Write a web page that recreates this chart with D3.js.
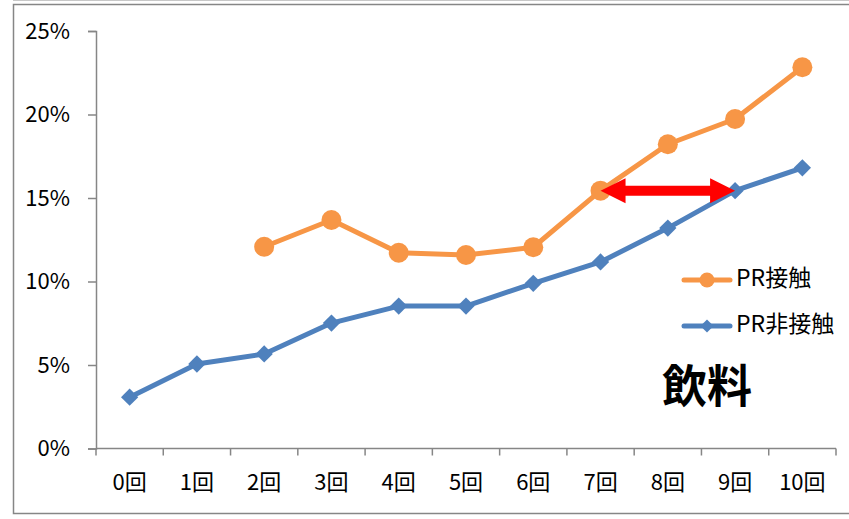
<!DOCTYPE html>
<html>
<head>
<meta charset="utf-8">
<script src="https://cdn.jsdelivr.net/npm/d3@7"></script>
<style>
  html, body { margin: 0; padding: 0; background: #fff; }
  svg { display: block; }
  text { font-family: "Noto Sans CJK JP", "Noto Sans", sans-serif; }
</style>
</head>
<body>
<svg id="chart" width="849" height="519"></svg>
<script>
// 露出回数ごとの購入率（飲料）
const categories = ["0回", "1回", "2回", "3回", "4回", "5回", "6回", "7回", "8回", "9回", "10回"];
const contactValues = [null, null, 12.08, 13.68, 11.72, 11.59, 12.05, 15.44, 18.22, 19.73, 22.83];
const nonContactValues = [3.07, 5.06, 5.66, 7.51, 8.53, 8.53, 9.89, 11.17, 13.2, 15.44, 16.81];
const yTicks = [0, 5, 10, 15, 20, 25];
const seriesNames = ["PR接触", "PR非接触"];
// 矢印：7回の接触と9回の非接触が同水準
const arrowFrom = "7回", arrowTo = "9回", arrowValue = 15.44;

const svg = d3.select("#chart");
const plotLeft = 96, plotRight = 836, plotTop = 31, plotBottom = 448.5;
const orange = "#F79646", blue = "#4F81BD", gridGray = "#868686";

// chart frame
svg.append("line").attr("x1", 13).attr("x2", 849).attr("y1", 0.5).attr("y2", 0.5)
  .attr("stroke", "#c8c8c8").attr("stroke-width", 1);
svg.append("rect").attr("x", 13.5).attr("y", 4.5).attr("width", 850).attr("height", 509)
  .attr("fill", "none").attr("stroke", gridGray).attr("stroke-width", 1.5);

const x = d3.scaleBand().domain(categories).range([plotLeft, plotRight]).padding(0);
const y = d3.scaleLinear().domain([0, 25]).range([plotBottom, plotTop]);
const cx = c => x(c) + x.bandwidth() / 2;

// y axis
const yAxis = svg.append("g").attr("transform", `translate(${plotLeft},0)`)
  .call(d3.axisLeft(y).tickValues(yTicks).tickFormat(d => d + "%").tickSize(8).tickPadding(18));
yAxis.select(".domain").attr("stroke", gridGray).attr("stroke-width", 1.5);
yAxis.selectAll(".tick line").attr("stroke", gridGray).attr("stroke-width", 1.5);
yAxis.selectAll(".tick text").attr("font-size", 22).attr("fill", "#000")
  .attr("font-family", "'Noto Sans CJK JP', sans-serif");

// x axis with ticks on band boundaries
const xAxisG = svg.append("g").attr("transform", `translate(0,${plotBottom})`);
xAxisG.append("line").attr("x1", plotLeft).attr("x2", plotRight).attr("y1", 0).attr("y2", 0)
  .attr("stroke", gridGray).attr("stroke-width", 1.5);
const boundaries = categories.map(c => x(c)).concat([plotRight]);
xAxisG.selectAll("line.tk").data(boundaries).join("line").attr("class", "tk")
  .attr("x1", d => d).attr("x2", d => d).attr("y1", 0).attr("y2", 7)
  .attr("stroke", gridGray).attr("stroke-width", 1.5);
xAxisG.selectAll("text").data(categories).join("text")
  .attr("x", d => cx(d)).attr("y", 36).attr("text-anchor", "middle")
  .attr("dominant-baseline", "middle").attr("font-size", 22).attr("fill", "#000").text(d => d);

const line = d3.line().defined(d => d.v != null).x(d => cx(d.c)).y(d => y(d.v));
const diamond = d3.symbol().type(d3.symbolDiamond2);

// non-contact series (blue, diamond markers)
const blueData = categories.map((c, i) => ({ c, v: nonContactValues[i] }));
svg.append("path").datum(blueData).attr("d", line).attr("fill", "none")
  .attr("stroke", blue).attr("stroke-width", 5).attr("stroke-linejoin", "round");
svg.selectAll("path.bm").data(blueData.filter(d => d.v != null)).join("path").attr("class", "bm")
  .attr("d", diamond.size(190)()).attr("transform", d => `translate(${cx(d.c)},${y(d.v)})`)
  .attr("fill", blue);

// contact series (orange, circle markers)
const orangeData = categories.map((c, i) => ({ c, v: contactValues[i] }));
svg.append("path").datum(orangeData).attr("d", line).attr("fill", "none")
  .attr("stroke", orange).attr("stroke-width", 5).attr("stroke-linejoin", "round");
svg.selectAll("circle.om").data(orangeData.filter(d => d.v != null)).join("circle").attr("class", "om")
  .attr("cx", d => cx(d.c)).attr("cy", d => y(d.v)).attr("r", 10).attr("fill", orange);

// red double-headed arrow
const ax1 = cx(arrowFrom), ax2 = cx(arrowTo), ay = y(arrowValue);
const headLen = 25, headHalf = 12.5, shaftHalf = 5;
svg.append("path").attr("fill", "#FF0000").attr("d",
  `M${ax1},${ay} L${ax1 + headLen},${ay - headHalf} L${ax1 + headLen},${ay - shaftHalf}
   L${ax2 - headLen},${ay - shaftHalf} L${ax2 - headLen},${ay - headHalf} L${ax2},${ay}
   L${ax2 - headLen},${ay + headHalf} L${ax2 - headLen},${ay + shaftHalf}
   L${ax1 + headLen},${ay + shaftHalf} L${ax1 + headLen},${ay + headHalf} Z`);

// legend
const legend = svg.append("g");
const legendItems = [
  { name: seriesNames[0], color: orange, marker: "circle", y: 280 },
  { name: seriesNames[1], color: blue, marker: "diamond", y: 326 }
];
legendItems.forEach(it => {
  legend.append("line").attr("x1", 684).attr("x2", 730).attr("y1", it.y).attr("y2", it.y)
    .attr("stroke", it.color).attr("stroke-width", 5).attr("stroke-linecap", "round");
  if (it.marker === "circle") {
    legend.append("circle").attr("cx", 707).attr("cy", it.y).attr("r", 7.5).attr("fill", it.color);
  } else {
    legend.append("path").attr("d", diamond.size(110)()).attr("transform", `translate(707,${it.y})`)
      .attr("fill", it.color);
  }
  legend.append("text").attr("x", 736).attr("y", it.y).attr("dominant-baseline", "middle")
    .attr("font-size", 23).attr("fill", "#000").text(it.name);
});

// category title
svg.append("text").attr("x", 707).attr("y", 391).attr("text-anchor", "middle")
  .attr("dominant-baseline", "middle").attr("font-size", 45).attr("font-weight", "bold")
  .attr("fill", "#000").text("飲料");
</script>
</body>
</html>
